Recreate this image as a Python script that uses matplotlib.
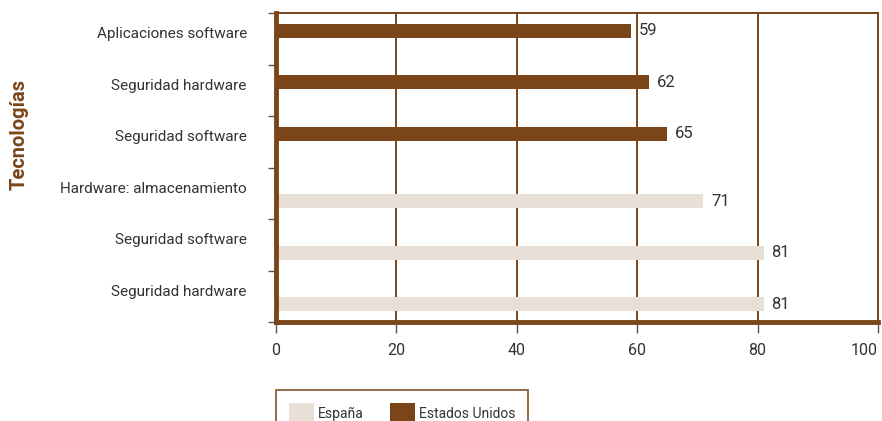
import matplotlib.pyplot as plt
from matplotlib.patches import Patch
import numpy as np

categories = ["Aplicaciones software", "Seguridad hardware", "Seguridad software",
              "Hardware: almacenamiento", "Seguridad software", "Seguridad hardware"]
espana = [0, 0, 0, 71, 81, 81]
eeuu = [59, 62, 65, 0, 0, 0]
xticks = [0, 20, 40, 60, 80, 100]

brown = "#7a4519"
light = "#e8dfd7"
text_col = "#333333"

plt.rcParams['font.family'] = ['Roboto', 'DejaVu Sans']

fig = plt.figure(figsize=(8.82, 4.21), dpi=100)
ax = fig.add_axes([276 / 882, 1 - 322 / 421, 602 / 882, 309 / 421])

y = np.arange(len(categories))
off = 0.155
h = 0.27
for i, (es, us) in enumerate(zip(espana, eeuu)):
    if us:
        ax.barh(y[i] - off, us, height=h, color=brown, zorder=3)
        ax.text(us + 1.3, y[i] - off, str(us), va="center", ha="left",
                fontsize=12, color=text_col)
    if es:
        ax.barh(y[i] + off, es, height=h, color=light, zorder=3)
        ax.text(es + 1.3, y[i] + off, str(es), va="center", ha="left",
                fontsize=12, color=text_col)

ax.set_xlim(0, 100)
ax.set_ylim(len(categories) - 0.5, -0.5)
ax.set_xticks(xticks)
ax.set_xticklabels([str(t) for t in xticks], fontsize=11.5, color=text_col)
ax.get_xticklabels()[-1].set_ha("right")
ax.set_yticks(np.arange(-0.5, len(categories), 1.0))
ax.set_yticklabels([])
ax.set_yticks(y - 0.12, minor=True)
ax.set_yticklabels(categories, minor=True, fontsize=11, color=text_col)
ax.tick_params(axis="y", which="minor", length=0, pad=21)
ax.tick_params(axis="y", which="major", length=6, width=1, color="#555555")
ax.tick_params(axis="x", length=8, width=1, color="#555555", pad=7)

ax.grid(axis="x", color=brown, linewidth=1.4, zorder=1)
for s in ["top", "right"]:
    ax.spines[s].set_color(brown)
    ax.spines[s].set_linewidth(1.4)
for s in ["left", "bottom"]:
    ax.spines[s].set_color(brown)
    ax.spines[s].set_linewidth(3.5)
    ax.spines[s].set_zorder(4)

fig.text(0.022, 0.68, "Tecnologías", rotation=90, color=brown, fontsize=14.5,
         fontweight="bold", ha="center", va="center")

handles = [Patch(facecolor=light, edgecolor="none", label="España"),
           Patch(facecolor=brown, edgecolor="none", label="Estados Unidos")]
leg = fig.legend(handles=handles, loc="upper left", bbox_to_anchor=(276 / 882, 1 - 390 / 421),
                 ncol=2, frameon=True, fancybox=False, fontsize=10,
                 handlelength=1.8, handleheight=2.0, handletextpad=0.3,
                 columnspacing=1.9, borderpad=0.9, borderaxespad=0)
leg.get_frame().set_edgecolor(brown)
leg.get_frame().set_linewidth(1.4)
for t in leg.get_texts():
    t.set_color(text_col)

fig.savefig("out.png", dpi=100)
